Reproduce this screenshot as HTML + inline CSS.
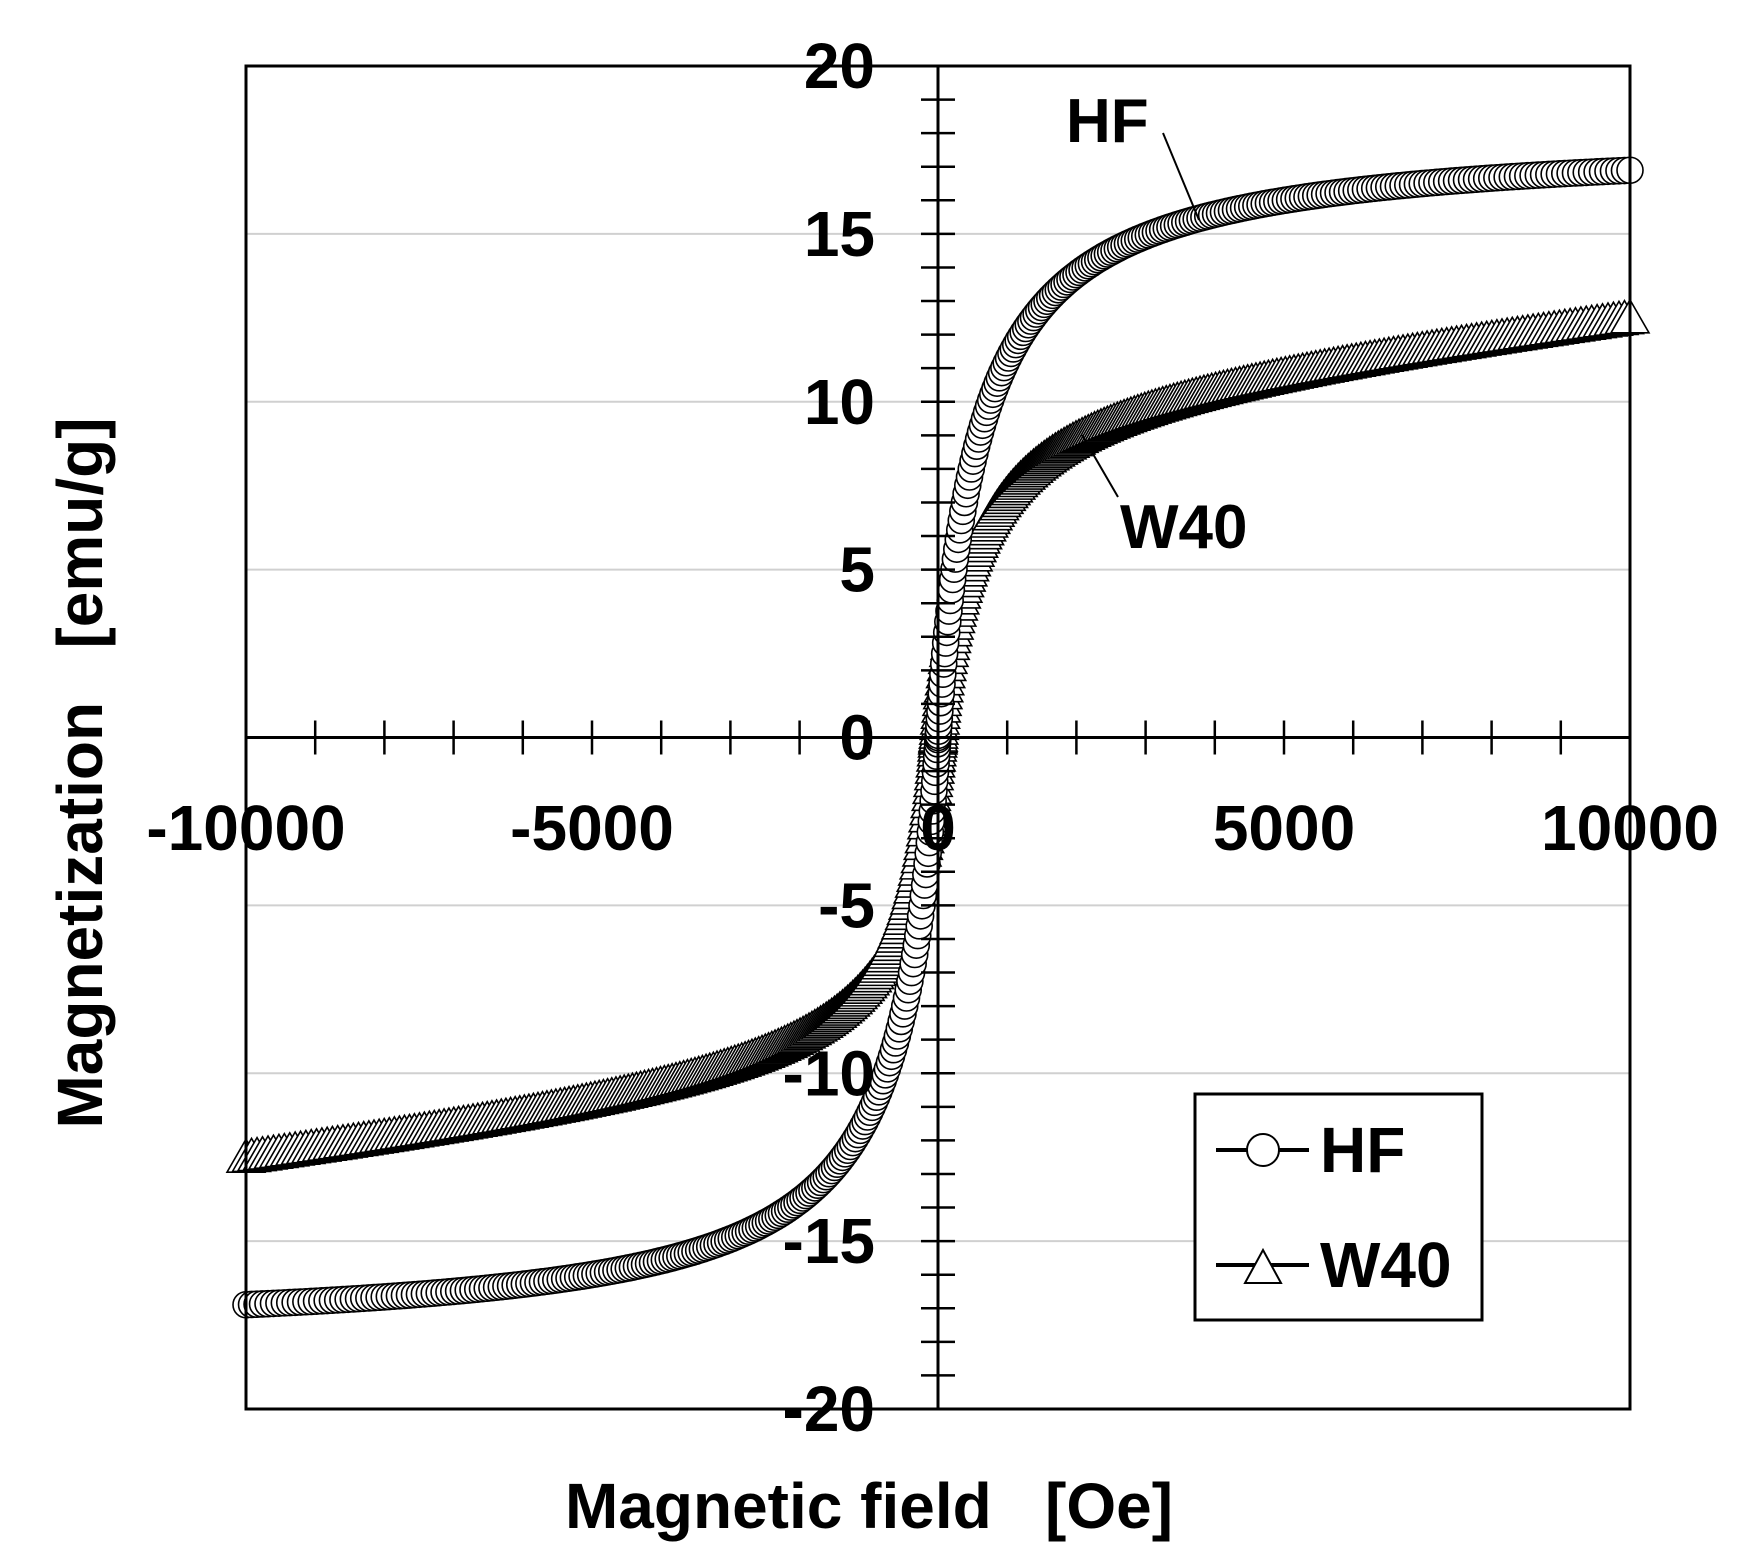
<!DOCTYPE html>
<html><head><meta charset="utf-8"><style>
html,body{margin:0;padding:0;background:#fff;}
svg{display:block;}
text{font-family:"Liberation Sans",sans-serif;font-weight:bold;fill:#000;white-space:pre;}
</style></head><body>
<svg id="s" width="1761" height="1568" viewBox="0 0 1761 1568" xmlns="http://www.w3.org/2000/svg" xml:space="preserve">
<rect width="1761" height="1568" fill="#fff"/>
<g id="grid" stroke="#d0d0d0" stroke-width="2"></g>
<g id="series"></g>
<g id="axes" stroke="#000" stroke-width="3"></g>
<rect x="246" y="66" width="1384" height="1343" fill="none" stroke="#000" stroke-width="3"/>
<g id="labels" font-size="64"></g>
<text x="869" y="1528" font-size="64" text-anchor="middle">Magnetic field   [Oe]</text>
<text transform="translate(102,773) rotate(-90)" font-size="64" text-anchor="middle">Magnetization   [emu/g]</text>
<text x="1066" y="142" font-size="62">HF</text>
<line x1="1163" y1="133" x2="1199" y2="220" stroke="#000" stroke-width="2"/>
<text x="1120" y="548" font-size="62">W40</text>
<line x1="1118" y1="497" x2="1082" y2="435" stroke="#000" stroke-width="2"/>
<rect x="1195" y="1094" width="287" height="226" fill="#fff" stroke="#000" stroke-width="3"/>
<line x1="1216" y1="1150" x2="1309" y2="1150" stroke="#000" stroke-width="4"/>
<circle cx="1263" cy="1150" r="16" fill="#fff" stroke="#000" stroke-width="2"/>
<text x="1320" y="1172" font-size="64">HF</text>
<line x1="1216" y1="1265" x2="1309" y2="1265" stroke="#000" stroke-width="4"/>
<polygon points="1263,1250 1245,1283 1281,1283" fill="#fff" stroke="#000" stroke-width="2"/>
<text x="1320" y="1287" font-size="64">W40</text>
</svg>
<script>
var NS="http://www.w3.org/2000/svg";
function el(p,t,a){var e=document.createElementNS(NS,t);for(var k in a)e.setAttribute(k,a[k]);p.appendChild(e);return e;}
var X0=938,Y0=737.5,sx=0.0692,sy=33.575;
function px(x){return X0+x*sx;} function py(y){return Y0-y*sy;}
var g=document.getElementById('grid');
[-15,-10,-5,5,10,15].forEach(function(v){el(g,'line',{x1:246,x2:1630,y1:py(v),y2:py(v)});});
var a=document.getElementById('axes');
el(a,'line',{x1:246,x2:1630,y1:Y0,y2:Y0});
el(a,'line',{x1:X0,x2:X0,y1:66,y2:1409});
for(var x=-9000;x<10000;x+=1000){if(x==0)continue;el(a,'line',{x1:px(x),x2:px(x),y1:Y0-17,y2:Y0+17,'stroke-width':2.5});}
for(var y=-19;y<20;y++){if(y==0)continue;el(a,'line',{x1:X0-17,x2:X0+17,y1:py(y),y2:py(y),'stroke-width':2.5});}
var L=document.getElementById('labels');
for(var v=-20;v<=20;v+=5){var t=el(L,'text',{x:875,y:py(v)+22,'text-anchor':'end'});t.textContent=v;}
[-10000,-5000,0,5000,10000].forEach(function(v){var t=el(L,'text',{x:px(v),y:850,'text-anchor':'middle'});t.textContent=v;});
var S=document.getElementById('series');
function hf(x){return 17.9*x/(Math.abs(x)+595);}
function w(x){return 10.5*x/(Math.abs(x)+500)+0.00025*x;}
var xs=[];
for(var i=0;i<=400;i++){var u=-1+2*i/400;var x=10000*Math.sign(u)*Math.pow(Math.abs(u),1.6);xs.push(x);}
xs.forEach(function(x){var cx=px(x),cy=py(w(x));el(S,'polygon',{points:cx+','+(cy-18)+' '+(cx-19)+','+(cy+15)+' '+(cx+19)+','+(cy+15),fill:'#fff',stroke:'#000','stroke-width':1.6});});
xs.forEach(function(x){el(S,'circle',{cx:px(x),cy:py(hf(x)),r:13,fill:'#fff',stroke:'#000','stroke-width':1.6});});
</script>
</body></html>
